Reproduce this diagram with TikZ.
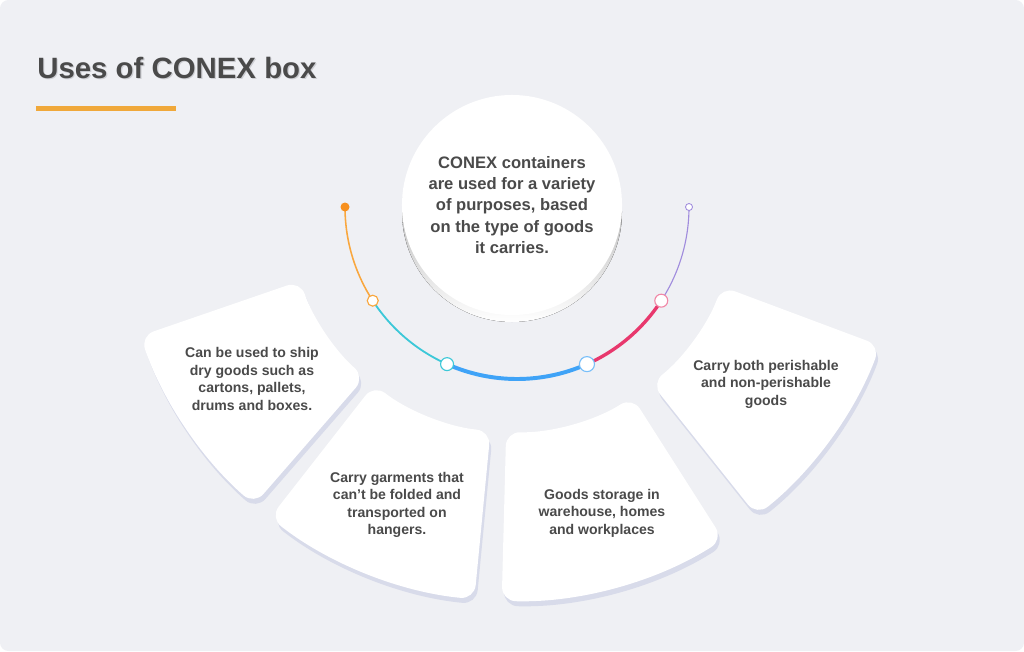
\documentclass[tikz,border=0pt]{standalone}
\usepackage{fontspec}
\setmainfont{Liberation Sans}
\usepackage{xcolor}
\usetikzlibrary{calc}

\definecolor{bgcol}{HTML}{EFF0F4}
\definecolor{shade}{HTML}{D8DBEA}
\definecolor{ink}{HTML}{4A4A4A}
\definecolor{inkshadow}{HTML}{CDCED3}
\definecolor{bar}{HTML}{F0A83A}
\definecolor{arcorange}{HTML}{F9A73E}
\definecolor{dotorange}{HTML}{F7901E}
\definecolor{arccyan}{HTML}{3CC8D8}
\definecolor{arcblue}{HTML}{3FA3F7}
\definecolor{arcpink}{HTML}{E8386D}
\definecolor{arcpurple}{HTML}{A08CDD}

\begin{document}
\begin{tikzpicture}[
    x=0.025cm, y=-0.025cm,
    sector/.style 2 args = {
        insert path={(#1:393) arc[start angle=#1, end angle=#2, radius=393]
            -- (#2:224) arc[start angle=#2, end angle=#1, radius=224] -- cycle}
    },
    card/.style = {fill=white, rounded corners=10pt},
    cardshadow/.style = {fill=shade, rounded corners=10pt},
    ctext/.style = {
        align=center, text=ink, inner sep=0pt,
        font=\bfseries\fontsize{10}{12.4}\selectfont
    },
    ring/.style = {circle, draw, fill=white, inner sep=0pt, line width=0.8pt},
    seg/.style = {line cap=round}
]

%% ---- BACKGROUND ----
\useasboundingbox (0,0) rectangle (1024,651);
\fill[white] (0,0) rectangle (1024,651);
\fill[bgcol, rounded corners=6pt] (0,0) rectangle (1024,651);

%% ---- TITLE ----
\node[anchor=base west, inner sep=0pt, text=inkshadow,
      font=\bfseries\fontsize{20.9}{25}\selectfont] at (38.2,79.8) {Uses of CONEX box};
\node[anchor=base west, inner sep=0pt, text=ink,
      font=\bfseries\fontsize{20.9}{25}\selectfont] (title) at (37,78) {Uses of CONEX box};
\fill[bar] (36,106) rectangle (176,110.5);

%% ---- CARDS ----
\fill[cardshadow, shift={(514,213)}, sector={131}{161}];
\fill[cardshadow, shift={(514,213)}, sector={95.5}{128}];
\fill[cardshadow, shift={(514,213)}, sector={57.5}{91.5}];
\fill[cardshadow, shift={(514,213)}, sector={20.5}{51.5}];

\fill[card, shift={(512,208)}, sector={131}{161}];
\fill[card, shift={(512,208)}, sector={95.5}{128}];
\fill[card, shift={(512,208)}, sector={57.5}{91.5}];
\fill[card, shift={(512,208)}, sector={20.5}{51.5}];

\node[ctext] (dry)   at (252,379) {Can be used to ship\\dry goods such as\\cartons, pallets,\\drums and boxes.};
\node[ctext] (garm)  at (397,505) {Carry garments that\\can’t be folded and\\transported on\\hangers.};
\node[ctext] (store) at (602,513) {Goods storage in\\warehouse, homes\\and workplaces};
\node[ctext] (peri)  at (766,384) {Carry both perishable\\and non-perishable\\goods};

%% ---- CENTRE CIRCLE ----
\fill[shade] (512,212) circle[radius=110];
\node[circle, fill=white, minimum size=5.5cm, inner sep=0pt, text=ink, align=center,
      font=\bfseries\fontsize{11.8}{15}\selectfont] (core) at (512,205)
    {CONEX containers\\are used for a variety\\of purposes, based\\on the type of goods\\it carries.};

%% ---- ARC ----
\coordinate (ac) at (517,207);
\coordinate (a0) at ($(ac)+(180:172)$);
\coordinate (a1) at ($(ac)+(147:172)$);
\coordinate (a2) at ($(ac)+(114:172)$);
\coordinate (a3) at ($(ac)+(66:172)$);
\coordinate (a4) at ($(ac)+(33:172)$);
\coordinate (a5) at ($(ac)+(0:172)$);

\draw[seg, arcorange, line width=1.1pt] (a0) arc[start angle=180, end angle=147, radius=172];
\draw[seg, arccyan,   line width=1.3pt] (a1) arc[start angle=147, end angle=114, radius=172];
\draw[seg, arcblue,   line width=2.8pt] (a2) arc[start angle=114, end angle=66,  radius=172];
\draw[seg, arcpink,   line width=2.4pt] (a3) arc[start angle=66,  end angle=33,  radius=172];
\draw[seg, arcpurple, line width=0.8pt] (a4) arc[start angle=33,  end angle=0,   radius=172];

\node[circle, fill=dotorange, inner sep=0pt, minimum size=6.4pt] (m0) at (a0) {};
\node[ring, draw=arcorange, minimum size=7.8pt]  (m1) at (a1) {};
\node[ring, draw=arccyan,   minimum size=9.2pt]  (m2) at (a2) {};
\node[ring, draw=arcblue!70, minimum size=10.7pt] (m3) at (a3) {};
\node[ring, draw=arcpink!60, minimum size=9.2pt]  (m4) at (a4) {};
\node[ring, draw=arcpurple, line width=0.6pt, minimum size=5pt] (m5) at (a5) {};

\end{tikzpicture}
\end{document}
